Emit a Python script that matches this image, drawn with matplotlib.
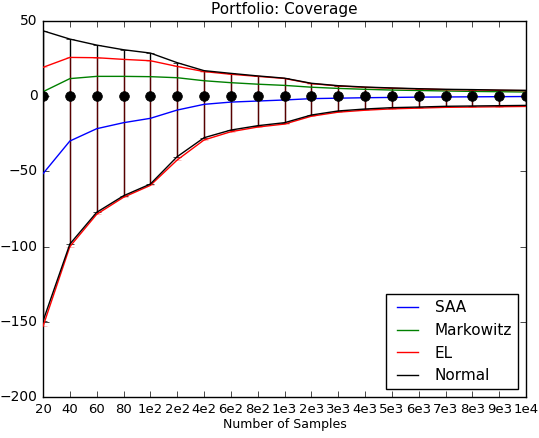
import matplotlib
matplotlib.use("Agg")
import matplotlib.pyplot as plt
import numpy as np

plt.style.use('classic')

labels = ['20', '40', '60', '80', '1e2', '2e2', '4e2', '6e2', '8e2', '1e3',
          '2e3', '3e3', '4e3', '5e3', '6e3', '7e3', '8e3', '9e3', '1e4']

saa = [-51.5, -29.8, -21.6, -17.6, -14.7, -9.2, -5.4, -3.9, -3.2, -2.5,
       -1.6, -1.3, -1.0, -0.8, -0.6, -0.5, -0.4, -0.3, -0.2]
markowitz = [3.0, 11.7, 13.2, 13.2, 13.0, 12.3, 10.3, 9.0, 8.0, 7.2,
             6.0, 5.2, 4.6, 4.1, 3.8, 3.5, 3.2, 3.0, 2.8]
el_hi = [19.2, 25.8, 25.6, 24.5, 23.6, 19.8, 16.4, 14.6, 13.2, 11.8,
         8.4, 6.8, 5.9, 5.3, 4.8, 4.4, 4.2, 3.9, 3.7]
el_lo = [-153.0, -100.0, -78.5, -67.2, -59.3, -42.4, -29.1, -23.6, -20.5, -18.5,
         -13.3, -10.6, -9.3, -8.4, -7.9, -7.4, -7.2, -7.0, -6.8]
normal_hi = [43.5, 38.0, 34.0, 30.9, 28.7, 22.3, 17.0, 15.2, 13.5, 12.0,
             8.6, 7.0, 6.1, 5.5, 5.0, 4.6, 4.4, 4.1, 3.9]
normal_lo = [-149.5, -98.3, -77.2, -66.2, -58.4, -40.2, -27.6, -22.5, -19.6, -17.6,
             -12.5, -9.8, -8.5, -7.6, -7.2, -6.7, -6.5, -6.3, -6.1]

x = np.arange(len(labels))
zeros = np.zeros(len(labels))

fig = plt.figure(figsize=(5.39, 4.38), dpi=100)
ax = fig.add_axes([0.0798, 0.0936, 0.8962, 0.8584])

# error bars
ax.errorbar(x, zeros, yerr=[-np.array(normal_lo), np.array(normal_hi)],
            fmt='none', ecolor='k', capsize=3, elinewidth=1, zorder=2)
ax.errorbar(x, zeros, yerr=[-np.array(el_lo), np.array(el_hi)],
            fmt='none', ecolor='r', capsize=3, elinewidth=1, alpha=0.35, zorder=2)

l1, = ax.plot(x, saa, color='b', lw=1, label='SAA', zorder=3)
l2, = ax.plot(x, markowitz, color='g', lw=1, label='Markowitz', zorder=3)
l3, = ax.plot(x, el_hi, color='r', lw=1, label='EL', zorder=3)
ax.plot(x, el_lo, color='r', lw=1, zorder=3)
l4, = ax.plot(x, normal_hi, color='k', lw=1, label='Normal', zorder=3)
ax.plot(x, normal_lo, color='k', lw=1, zorder=3)
ax.plot(x, zeros, 'ko', markersize=7, zorder=4)

ax.set_xlim(0, len(labels) - 1)
ax.set_ylim(-200, 50)
ax.set_xticks(x)
ax.set_xticklabels(labels, fontsize=9.5)
ax.set_yticks([-200, -150, -100, -50, 0, 50])
ax.tick_params(axis='y', labelsize=10)
ax.set_xlabel('Number of Samples', fontsize=9, labelpad=2)
ax.set_title('Portfolio: Coverage', fontsize=11)

ax.legend(handles=[l1, l2, l3, l4], loc='lower right', fontsize=11)

fig.savefig('out.png', dpi=100)
